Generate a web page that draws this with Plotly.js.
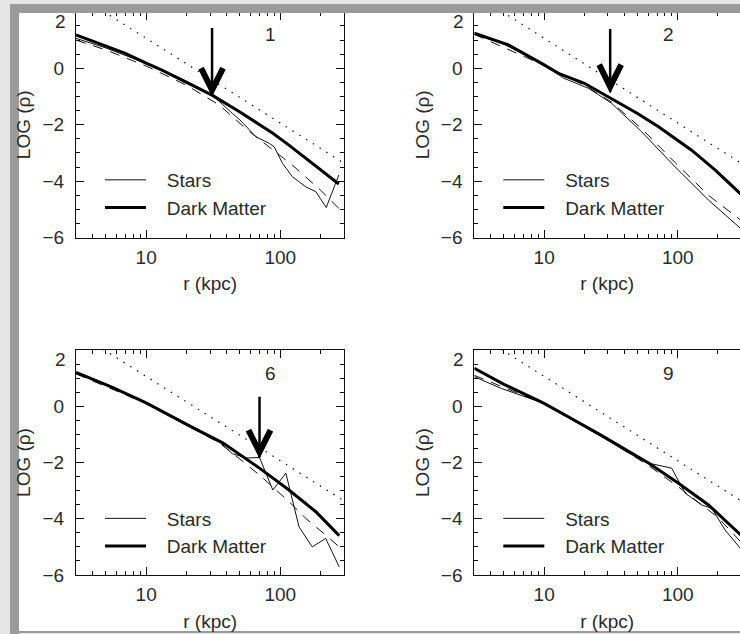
<!DOCTYPE html>
<html><head><meta charset="utf-8">
<script src="https://cdn.plot.ly/plotly-3.0.1.min.js"></script>
<style>html,body{margin:0;padding:0;background:#e6e6e6;overflow:hidden}</style>
</head><body><div id="chart" style="width:740px;height:634px"></div>
<script>
// ---- data (r in kpc, values are log10 density) ----
const panelLabels = ['1', '2', '6', '9'];
const xTickVals = [10, 100];
const xTickText = ['10', '100'];
const xMinorVals = [4, 5, 6, 7, 8, 9, 20, 30, 40, 50, 60, 70, 80, 90, 200, 300];
const yTickVals = [-6, -4, -2, 0, 2];
const yTickText = ['\u22126', '\u22124', '\u22122', '0', ''];
const yTopLabel = '2';

// dotted reference power law (same in every panel)
const dotR = [3, 300];
const dotRho = [2.63, -3.37];

// Panel 1
const p1StarsR = [3, 5, 8, 12, 18, 25, 33, 44, 50, 66, 83, 90, 104, 123, 155, 184, 220, 273];
const p1Stars = [1.06, 0.72, 0.35, 0.0, -0.35, -0.7, -1.06, -1.6, -1.83, -2.43, -2.66, -2.78, -3.37, -3.84, -4.2, -4.37, -4.93, -3.78];
const p1DmR = [3, 5, 7, 10, 13, 20, 31, 50, 88, 116, 173, 273];
const p1Dm = [1.18, 0.8, 0.53, 0.18, -0.06, -0.5, -0.95, -1.55, -2.3, -2.72, -3.37, -4.1];
const p1FitR = [3, 5, 10, 20, 35, 57, 123, 200, 273];
const p1Fit = [1.0, 0.65, 0.08, -0.6, -1.3, -2.19, -3.43, -4.32, -4.96];

// Panel 2
const p2StarsR = [3, 5, 10, 14, 21.5, 32, 53.7, 95.5, 170, 300];
const p2Stars = [1.22, 0.85, 0.12, -0.35, -0.71, -1.24, -2.25, -3.49, -4.67, -5.7];
const p2DmR = [3, 5.4, 10, 12.8, 20, 30.3, 50, 71.8, 127, 191, 300];
const p2Dm = [1.24, 0.83, 0.12, -0.18, -0.53, -1.01, -1.6, -2.07, -2.9, -3.61, -4.48];
const p2FitR = [3, 10, 20, 32, 54, 96, 170, 300];
const p2Fit = [1.2, 0.1, -0.6, -1.2, -2.15, -3.35, -4.5, -5.4];

// Panel 6
const p3StarsR = [3, 5.5, 10, 21, 35, 44, 57, 70, 88, 110, 138, 173, 218, 275];
const p3Stars = [1.2, 0.7, 0.14, -0.66, -1.25, -1.69, -1.84, -1.82, -2.98, -2.38, -4.29, -5.0, -4.7, -5.71];
const p3DmR = [3, 5.5, 10, 21, 37.5, 70, 116, 184, 275];
const p3Dm = [1.2, 0.69, 0.12, -0.7, -1.31, -2.2, -2.98, -3.75, -4.6];
const p3FitR = [3, 10, 21, 35, 52.6, 72, 116, 155, 218, 275];
const p3Fit = [1.15, 0.1, -0.72, -1.3, -1.96, -2.5, -3.39, -3.99, -4.58, -5.0];

// Panel 9
const p4StarsR = [3, 4.8, 10, 20, 30, 45, 60, 90, 113.5, 151, 180, 226, 300];
const p4Stars = [1.05, 0.63, 0.1, -0.72, -1.22, -1.72, -2.02, -2.2, -3.09, -3.51, -3.63, -4.4, -5.1];
const p4DmR = [3, 5, 10, 16.6, 22.7, 27, 60.4, 100, 170, 284, 300];
const p4Dm = [1.35, 0.78, 0.1, -0.48, -0.86, -1.04, -2.02, -2.72, -3.51, -4.52, -4.6];
const p4FitR = [3, 10, 30, 60, 100, 150, 200, 300];
const p4Fit = [1.1, 0.08, -1.2, -2.1, -2.85, -3.5, -3.95, -4.85];

// arrows (panels 1, 2, 6)
const arrowPanel = [1, 2, 3];
const arrowR = [31, 31.2, 70];
const arrowTail = [1.43, 1.39, 0.34];
const arrowTip = [-0.95, -0.83, -1.81];

// label position (same in each panel)
const labelR = 85;
const labelRho = 1.18;

// ---- figure ----
const W = 740, H = 634;
const FONT = 'Liberation Sans, Arial, sans-serif';
const TXT = '#2a2a2a';
const INK = '#111';
const PAD = '\u00a0\u00a0\u00a0';

const panels = [
  {sR: p1StarsR, s: p1Stars, dR: p1DmR, d: p1Dm, fR: p1FitR, f: p1Fit},
  {sR: p2StarsR, s: p2Stars, dR: p2DmR, d: p2Dm, fR: p2FitR, f: p2Fit},
  {sR: p3StarsR, s: p3Stars, dR: p3DmR, d: p3Dm, fR: p3FitR, f: p3Fit},
  {sR: p4StarsR, s: p4Stars, dR: p4DmR, d: p4Dm, fR: p4FitR, f: p4Fit}
];

const px = v => v / W;
const py = v => 1 - v / H;

const xDomLeft = [px(76), px(344.3)];
const xDomRight = [px(474.3), 1];
const yDomTop = [py(237.7), py(11.8)];
const yDomBot = [py(575), py(350)];
const xRangeLeft = [Math.log10(3), Math.log10(300)];
const xRangeRight = [Math.log10(3), Math.log10(3) + (740 - 474.3) / 133.6];

const traces = [];
panels.forEach((p, i) => {
  const n = i + 1;
  const xa = n === 1 ? 'x' : 'x' + n;
  const ya = n === 1 ? 'y' : 'y' + n;
  const lg = n === 1 ? 'legend' : 'legend' + n;
  traces.push({x: dotR, y: dotRho, xaxis: xa, yaxis: ya, mode: 'lines', showlegend: false,
    line: {color: INK, width: 1.2, dash: '1.5px,6.5px'}, hoverinfo: 'skip'});
  traces.push({x: p.fR, y: p.f, xaxis: xa, yaxis: ya, mode: 'lines', showlegend: false,
    line: {color: INK, width: 1, dash: '10px,8px'}, name: 'fit'});
  traces.push({x: p.sR, y: p.s, xaxis: xa, yaxis: ya, mode: 'lines', name: PAD + 'Stars', legend: lg,
    line: {color: INK, width: 1}});
  traces.push({x: p.dR, y: p.d, xaxis: xa, yaxis: ya, mode: 'lines', name: PAD + 'Dark Matter', legend: lg,
    line: {color: '#000', width: 3}});
});

function xAxis(dom, rng, anchor) {
  return {
    type: 'log', domain: dom, range: rng, anchor: anchor,
    tickmode: 'array', tickvals: xTickVals, ticktext: xTickText,
    ticks: 'inside', ticklen: 8, tickwidth: 1, tickcolor: INK,
    minor: {tickmode: 'array', tickvals: xMinorVals, ticks: 'inside', ticklen: 4, tickwidth: 1, tickcolor: INK},
    showline: true, linecolor: INK, linewidth: 1, mirror: 'ticks',
    showgrid: false, zeroline: false, automargin: false,
    tickfont: {family: FONT, size: 19, color: TXT}, ticklabelstandoff: 2,
    title: {text: 'r (kpc)', font: {family: FONT, size: 19, color: TXT}, standoff: 10}
  };
}
function yAxis(dom, anchor, mirror) {
  return {
    domain: dom, range: [-6, 2], anchor: anchor,
    tickmode: 'array', tickvals: yTickVals, ticktext: yTickText,
    ticks: 'inside', ticklen: 8, tickwidth: 1, tickcolor: INK,
    minor: {dtick: 0.5, tick0: 0, ticks: 'inside', ticklen: 4, tickwidth: 1, tickcolor: INK},
    showline: true, linecolor: INK, linewidth: 1, mirror: mirror,
    showgrid: false, zeroline: false, automargin: false,
    tickfont: {family: FONT, size: 19, color: TXT}, ticklabelstandoff: 7,
    title: {text: 'LOG (ρ)', font: {family: FONT, size: 19, color: TXT}, standoff: 6}
  };
}

function legendAt(xPix, yPix) {
  return {x: px(xPix), y: py(yPix), xanchor: 'left', yanchor: 'top', bgcolor: 'rgba(0,0,0,0)',
    borderwidth: 0, itemwidth: 41, font: {family: FONT, size: 19, color: TXT}, traceorder: 'normal'};
}

const shapes = [
  // white page
  {type: 'rect', xref: 'paper', yref: 'paper', x0: px(19), x1: 1, y0: py(631), y1: py(13),
    fillcolor: '#ffffff', line: {width: 0}, layer: 'below'},
  // grey frame bands over the page
  {type: 'rect', xref: 'paper', yref: 'paper', x0: px(10), x1: 1, y0: py(13), y1: py(4),
    fillcolor: '#9b9b9b', line: {width: 0}, layer: 'above'},
  {type: 'rect', xref: 'paper', yref: 'paper', x0: px(10), x1: px(19), y0: 0, y1: py(4),
    fillcolor: '#9b9b9b', line: {width: 0}, layer: 'above'},
  {type: 'rect', xref: 'paper', yref: 'paper', x0: px(19), x1: 1, y0: py(633), y1: py(631),
    fillcolor: '#9b9b9b', line: {width: 0}, layer: 'above'}
];

arrowPanel.forEach((n, k) => {
  const xr = n === 1 ? 'x' : 'x' + n;
  const yr = n === 1 ? 'y' : 'y' + n;
  shapes.push({type: 'line', xref: xr, yref: yr, x0: arrowR[k], x1: arrowR[k], y0: arrowTail[k], y1: arrowTip[k],
    line: {color: '#000', width: 2.5}});
  shapes.push({type: 'path', xref: xr, yref: yr, xsizemode: 'pixel', ysizemode: 'pixel',
    xanchor: arrowR[k], yanchor: arrowTip[k], path: 'M-11,27 L0,5 L11,27',
    line: {color: '#000', width: 6}});
});

const annotations = [];
panelLabels.forEach((t, i) => {
  const n = i + 1;
  const xr = n === 1 ? 'x' : 'x' + n;
  const yr = n === 1 ? 'y' : 'y' + n;
  annotations.push({xref: xr, yref: yr, x: Math.log10(labelR), y: labelRho, text: t, showarrow: false,
    font: {family: FONT, size: 19, color: TXT}});
  // top y tick label, drawn a little below its tick as in the original
  annotations.push({xref: xr + ' domain', yref: yr, x: 0, y: 2, xanchor: 'right', yanchor: 'middle',
    xshift: -8, yshift: -9.5, text: yTopLabel, showarrow: false,
    font: {family: FONT, size: 19, color: TXT}});
});

const layout = {
  width: W, height: H,
  margin: {l: 0, r: 0, t: 0, b: 0, autoexpand: false},
  paper_bgcolor: '#e6e6e6', plot_bgcolor: '#ffffff',
  font: {family: FONT, size: 19, color: TXT},
  xaxis: xAxis(xDomLeft, xRangeLeft, 'y'),
  yaxis: yAxis(yDomTop, 'x', 'ticks'),
  xaxis2: xAxis(xDomRight, xRangeRight, 'y2'),
  yaxis2: yAxis(yDomTop, 'x2', false),
  xaxis3: xAxis(xDomLeft, xRangeLeft, 'y3'),
  yaxis3: yAxis(yDomBot, 'x3', 'ticks'),
  xaxis4: xAxis(xDomRight, xRangeRight, 'y4'),
  yaxis4: yAxis(yDomBot, 'x4', false),
  legend: legendAt(100, 161),
  legend2: legendAt(498.3, 161),
  legend3: legendAt(100, 499.5),
  legend4: legendAt(498.3, 499.5),
  shapes: shapes,
  annotations: annotations
};

Plotly.newPlot('chart', traces, layout, {displayModeBar: false, staticPlot: true});
</script>
</body></html>
